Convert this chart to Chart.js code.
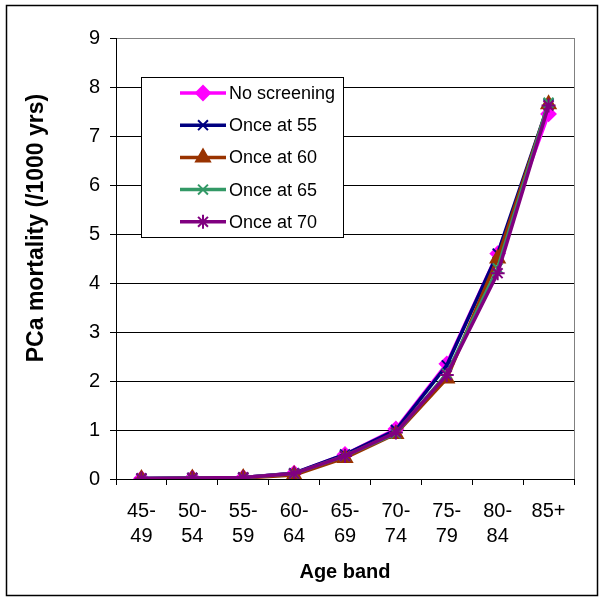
<!DOCTYPE html>
<html>
<head>
<meta charset="utf-8">
<script src="https://cdn.jsdelivr.net/npm/chart.js@4.4.0/dist/chart.umd.min.js"></script>
<style>
  html, body { margin: 0; padding: 0; background: #fff; }
  #wrap { width: 605px; height: 601px; }
</style>
</head>
<body>
<div id="wrap"><canvas id="lineChart" width="605" height="601"></canvas></div>
<script>
// age bands (x categories)
const ageBands = [['45-', '49'], ['50-', '54'], ['55-', '59'], ['60-', '64'], ['65-', '69'],
  ['70-', '74'], ['75-', '79'], ['80-', '84'], ['85+']];

// PCa mortality per 1000 years
const noScreening = [0.01, 0.02, 0.03, 0.12, 0.5, 1.02, 2.35, 4.6, 7.45];
const onceAt55 = [0.01, 0.02, 0.03, 0.12, 0.5, 1.0, 2.32, 4.6, 7.65];
const onceAt60 = [0.0, 0.01, 0.02, 0.08, 0.43, 0.92, 2.05, 4.5, 7.65];
const onceAt65 = [0.01, 0.02, 0.03, 0.11, 0.47, 0.93, 2.15, 4.3, 7.68];
const onceAt70 = [0.01, 0.02, 0.03, 0.11, 0.47, 0.95, 2.12, 4.2, 7.62];

const yTicks = [0, 1, 2, 3, 4, 5, 6, 7, 8, 9];

const FONT = "'Liberation Sans', Arial, sans-serif";

function series(label, data, color, style, radius, order) {
  return {
    label: label,
    data: data,
    borderColor: color,
    backgroundColor: color,
    borderWidth: 3.5,
    pointStyle: style,
    pointRadius: radius,
    pointHoverRadius: radius,
    pointBorderColor: color,
    pointBackgroundColor: color,
    pointBorderWidth: 2,
    tension: 0,
    fill: false,
    order: order
  };
}

// chart frame, legend box and y title drawn on the canvas
const extras = {
  id: 'extras',
  beforeDraw(chart) {
    const ctx = chart.ctx;
    ctx.save();
    ctx.fillStyle = '#fff';
    ctx.fillRect(0, 0, chart.width, chart.height);
    ctx.strokeStyle = '#000';
    ctx.lineWidth = 1.5;
    ctx.strokeRect(6.5, 5.5, 591, 590);
    ctx.restore();
  },
  afterDatasetsDraw(chart) {
    const ctx = chart.ctx;
    const a = chart.chartArea;
    ctx.save();
    // plot area right border
    ctx.strokeStyle = '#808080';
    ctx.lineWidth = 1;
    ctx.beginPath();
    ctx.moveTo(Math.round(a.right) + 0.5, a.top);
    ctx.lineTo(Math.round(a.right) + 0.5, a.bottom);
    ctx.stroke();

    // y axis title
    ctx.fillStyle = '#000';
    ctx.font = 'bold 23px ' + FONT;
    ctx.textAlign = 'center';
    ctx.textBaseline = 'middle';
    ctx.translate(37, 228);
    ctx.rotate(-Math.PI / 2);
    ctx.fillText('PCa mortality (/1000 yrs)', 0, 0);
    ctx.restore();

    // legend
    ctx.save();
    const bx = 141.5, by = 77.5, bw = 202, bh = 160;
    ctx.fillStyle = '#fff';
    ctx.fillRect(bx, by, bw, bh);
    ctx.strokeStyle = '#000';
    ctx.lineWidth = 1;
    ctx.strokeRect(bx, by, bw, bh);
    ctx.font = '18px ' + FONT;
    ctx.textAlign = 'left';
    ctx.textBaseline = 'middle';
    chart.data.datasets.forEach((ds, i) => {
      const y = 93 + i * 32.2;
      ctx.strokeStyle = ds.borderColor;
      ctx.fillStyle = ds.borderColor;
      ctx.lineWidth = 3.5;
      ctx.beginPath();
      ctx.moveTo(180, y);
      ctx.lineTo(226, y);
      ctx.stroke();
      ctx.lineWidth = ds.pointBorderWidth;
      Chart.helpers.drawPoint(ctx, {
        pointStyle: ds.pointStyle,
        radius: ds.pointRadius,
        rotation: 0,
        borderWidth: ds.pointBorderWidth
      }, 203, y);
      ctx.fillStyle = '#000';
      ctx.fillText(ds.label, 229, y + 1);
    });
    ctx.restore();
  }
};

const ctxLine = document.getElementById('lineChart').getContext('2d');
const lineChart = new Chart(ctxLine, {
  type: 'line',
  data: {
    labels: ageBands,
    datasets: [
      series('No screening', noScreening, '#FF00FF', 'rectRot', 7, 4),
      series('Once at 55', onceAt55, '#000080', 'crossRot', 7, 3),
      series('Once at 60', onceAt60, '#993300', 'triangle', 8, 2),
      series('Once at 65', onceAt65, '#339966', 'crossRot', 7, 1),
      series('Once at 70', onceAt70, '#800080', 'star', 7, 0)
    ]
  },
  options: {
    responsive: false,
    animation: false,
    layout: { padding: { left: 10, right: 31, top: 38, bottom: 10 } },
    plugins: {
      legend: { display: false },
      tooltip: { enabled: false }
    },
    scales: {
      x: {
        type: 'category',
        offset: true,
        grid: {
          offset: true,
          drawOnChartArea: false,
          drawTicks: true,
          tickLength: 6,
          tickColor: '#000'
        },
        border: { display: true, color: '#000', width: 1 },
        ticks: {
          color: '#000',
          font: { family: FONT, size: 20, lineHeight: '25px' },
          padding: 14,
          maxRotation: 0,
          autoSkip: false
        },
        title: {
          display: true,
          text: 'Age band',
          color: '#000',
          font: { family: FONT, size: 20, weight: 'bold' },
          padding: { top: 0, bottom: 7 }
        },
        afterFit(scale) { scale.height = 112; }
      },
      y: {
        min: 0,
        max: 9,
        afterBuildTicks(scale) { scale.ticks = yTicks.map(v => ({ value: v })); },
        grid: {
          color: (c) => (c.tick && c.tick.value === 9 ? '#808080' : '#000'),
          lineWidth: 1,
          drawTicks: true,
          tickLength: 6,
          tickColor: '#000'
        },
        border: { display: true, color: '#000', width: 1 },
        ticks: {
          color: '#000',
          font: { family: FONT, size: 20 },
          padding: 10
        },
        title: { display: false },
        afterFit(scale) { scale.width = 106; }
      }
    }
  },
  plugins: [extras]
});
</script>
</body>
</html>
